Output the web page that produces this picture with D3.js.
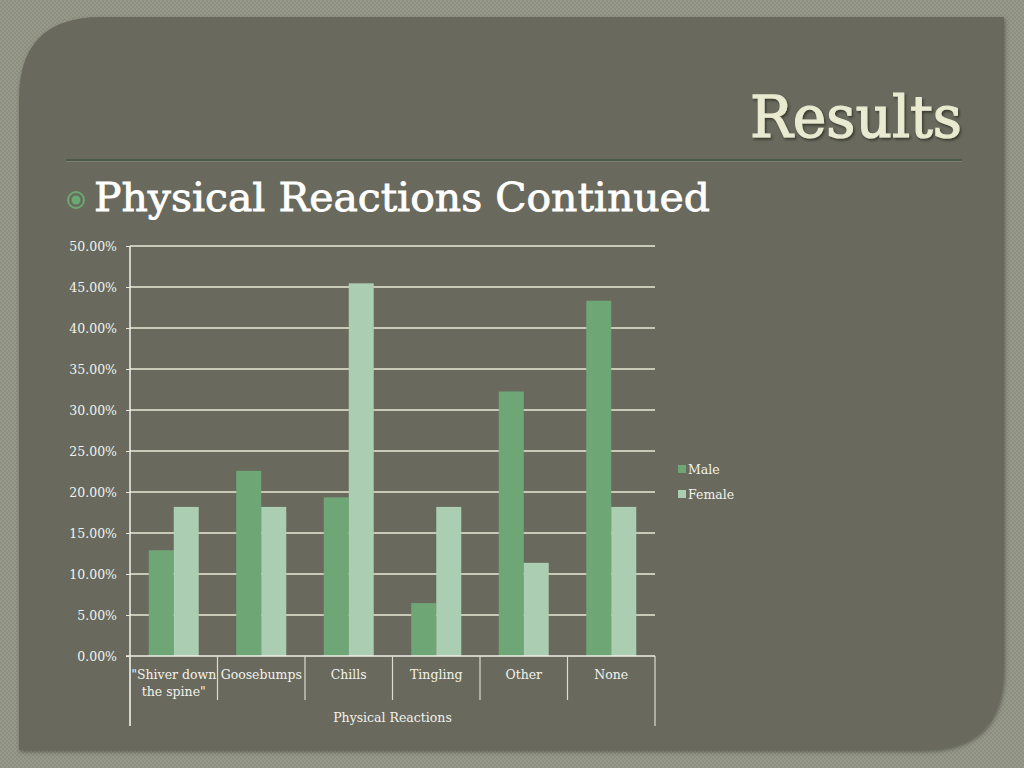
<!DOCTYPE html>
<html><head><meta charset="utf-8">
<script src="https://cdn.jsdelivr.net/npm/d3@7"></script>
<style>
html,body{margin:0;padding:0;background:#8c8f80;}
svg{display:block;}
</style></head>
<body>
<svg id="c" width="1024" height="768"></svg>
<script>
const categories = ['"Shiver down the spine"', "Goosebumps", "Chills", "Tingling", "Other", "None"];
const categoryLines = [['"Shiver down', 'the spine"'], ["Goosebumps"], ["Chills"], ["Tingling"], ["Other"], ["None"]];
const series = ["Male", "Female"];
const maleValues = [0.129, 0.2258, 0.1935, 0.0645, 0.3226, 0.4333];
const femaleValues = [0.1818, 0.1818, 0.4545, 0.1818, 0.1136, 0.1818];
const yTicks = [0, 0.05, 0.10, 0.15, 0.20, 0.25, 0.30, 0.35, 0.40, 0.45, 0.50];
const axisTitle = "Physical Reactions";
const slideTitle = "Results";
const bulletText = "Physical Reactions Continued";
const colors = {Male: "#6ea676", Female: "#abcdb1"};

const svg = d3.select("#c");
const defs = svg.append("defs");
const pat = defs.append("pattern").attr("id","tex").attr("width",4).attr("height",4).attr("patternUnits","userSpaceOnUse");
pat.append("rect").attr("width",4).attr("height",4).attr("fill","#8d9081");
pat.append("rect").attr("width",2).attr("height",2).attr("fill","#979a8b");
pat.append("rect").attr("x",2).attr("y",2).attr("width",2).attr("height",2).attr("fill","#979a8b");
const sh = defs.append("filter").attr("id","sh").attr("x","-5%").attr("y","-5%").attr("width","110%").attr("height","110%");
sh.append("feDropShadow").attr("dx",1).attr("dy",2).attr("stdDeviation",2).attr("flood-color","#3a3c32").attr("flood-opacity",0.6);
const tsh = defs.append("filter").attr("id","tsh");
tsh.append("feDropShadow").attr("dx",1.5).attr("dy",2).attr("stdDeviation",1).attr("flood-color","#2e3026").attr("flood-opacity",0.8);

svg.append("rect").attr("width",1024).attr("height",768).attr("fill","url(#tex)");

// slide panel: rounded top-left and bottom-right
const L=19,T=17,R=1004,B=750,r=82;
svg.append("path")
  .attr("d",`M${L+r},${T} L${R},${T} L${R},${B-r} Q${R},${B} ${R-r},${B} L${L},${B} L${L},${T+r} Q${L},${T} ${L+r},${T} Z`)
  .attr("fill","#696b5d").attr("filter","url(#sh)");

// title
svg.append("text").attr("x",962).attr("y",137).attr("text-anchor","end")
  .attr("font-family","DejaVu Serif").attr("font-size",58)
  .attr("textLength",212).attr("lengthAdjust","spacingAndGlyphs")
  .attr("fill","#e9ead0").attr("stroke","#e9ead0").attr("stroke-width",1.2)
  .attr("filter","url(#tsh)").text(slideTitle);

// rule
svg.append("line").attr("x1",66).attr("x2",962).attr("y1",160).attr("y2",160).attr("stroke","#4c5b48").attr("stroke-width",2);
svg.append("line").attr("x1",66).attr("x2",962).attr("y1",161.5).attr("y2",161.5).attr("stroke","#7d8070").attr("stroke-width",1);

// bullet
svg.append("circle").attr("cx",76).attr("cy",200).attr("r",8).attr("fill","none").attr("stroke","#6aa874").attr("stroke-width",2);
svg.append("circle").attr("cx",76).attr("cy",200).attr("r",4.5).attr("fill","#6aa874");
svg.append("text").attr("x",94).attr("y",211).attr("font-family","DejaVu Serif").attr("font-size",40)
  .attr("textLength",616).attr("lengthAdjust","spacingAndGlyphs")
  .attr("fill","#ffffff").attr("stroke","#ffffff").attr("stroke-width",0.8).text(bulletText);

// chart
const x0 = d3.scaleBand().domain(categories).range([130,655]).paddingInner(3/7).paddingOuter(3/14);
const step = x0.step();
const x1 = d3.scaleBand().domain(series).range([0,x0.bandwidth()]);
const y = d3.scaleLinear().domain([0,0.5]).range([656,246]);

const labelFont = "DejaVu Serif";
const yAxis = svg.append("g").attr("transform","translate(130,0)")
  .call(d3.axisLeft(y).tickValues(yTicks).tickFormat(d3.format(".2%")).tickSize(4).tickPadding(9));
yAxis.select(".domain").remove();
yAxis.selectAll(".tick line").attr("stroke","#e6e6dc").attr("stroke-width",1);
yAxis.selectAll(".tick text").attr("fill","#f2f2ec").attr("font-family",labelFont).attr("font-size",12.5);

// gridlines
svg.append("g").selectAll("line").data(yTicks.filter(d=>d>0)).join("line")
  .attr("x1",130).attr("x2",655).attr("y1",d=>y(d)).attr("y2",d=>y(d))
  .attr("stroke","#c9c9b7").attr("stroke-width",2);

// bars
const data = categories.map((c,i)=>({c, vals:[{s:"Male",v:maleValues[i]},{s:"Female",v:femaleValues[i]}]}));
const g = svg.append("g").selectAll("g").data(data).join("g").attr("transform",d=>`translate(${x0(d.c)},0)`);
g.selectAll("rect").data(d=>d.vals).join("rect")
  .attr("x",d=>x1(d.s)).attr("width",x1.bandwidth())
  .attr("y",d=>y(d.v)).attr("height",d=>y(0)-y(d.v))
  .attr("fill",d=>colors[d.s]);

// axes lines
svg.append("line").attr("x1",130).attr("x2",130).attr("y1",246).attr("y2",726).attr("stroke","#f0f0ea").attr("stroke-width",1.5);
svg.append("line").attr("x1",126).attr("x2",655).attr("y1",656).attr("y2",656).attr("stroke","#f0f0ea").attr("stroke-width",1.5);

// category separators
const bounds = d3.range(categories.length+1).map(i=>130+i*step);
svg.append("g").selectAll("line").data(bounds).join("line")
  .attr("x1",d=>d).attr("x2",d=>d).attr("y1",656)
  .attr("y2",(d,i)=> (i===0||i===categories.length)?726:700)
  .attr("stroke","#dcdcd0").attr("stroke-width",1.2);

// category labels
const cl = svg.append("g").selectAll("text").data(categories).join("text")
  .attr("x",d=>x0(d)+x0.bandwidth()/2).attr("y",679).attr("text-anchor","middle")
  .attr("font-family",labelFont).attr("font-size",12.5).attr("fill","#f2f2ec");
cl.each(function(d,i){
  d3.select(this).selectAll("tspan").data(categoryLines[i]).join("tspan")
    .attr("x",x0(d)+x0.bandwidth()/2).attr("dy",(t,j)=>j===0?0:17).text(t=>t);
});
svg.append("text").attr("x",392.5).attr("y",722).attr("text-anchor","middle")
  .attr("font-family",labelFont).attr("font-size",12.5).attr("fill","#f2f2ec").text(axisTitle);

// legend
const lg = svg.append("g").selectAll("g").data(series).join("g").attr("transform",(d,i)=>`translate(678,${465+i*25})`);
lg.append("rect").attr("width",8).attr("height",8).attr("fill",d=>colors[d]);
lg.append("text").attr("x",10).attr("y",9).attr("font-family",labelFont).attr("font-size",12.5).attr("fill","#f2f2ec").text(d=>d);
</script>
</body></html>
